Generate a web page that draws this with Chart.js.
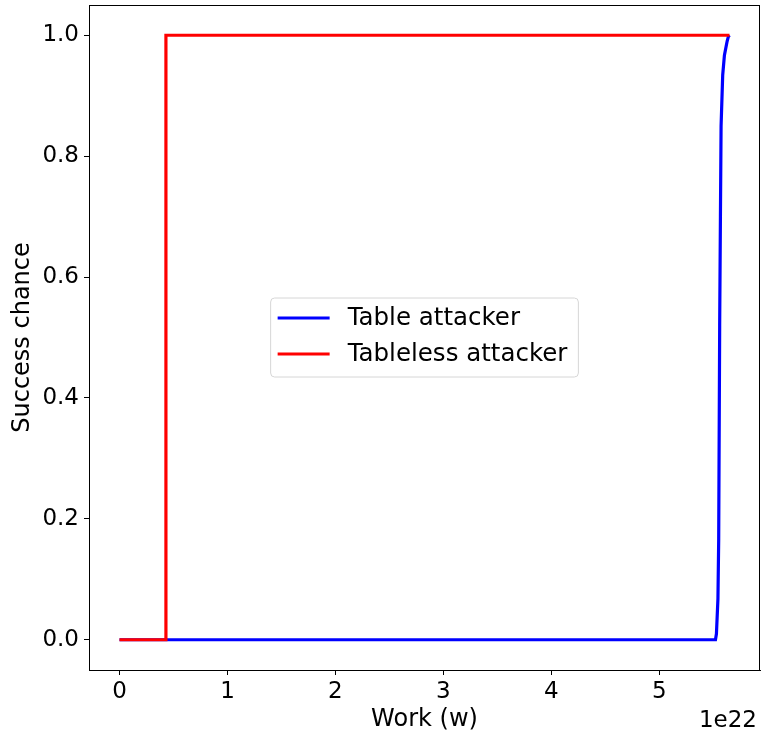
<!DOCTYPE html>
<html>
<head>
<meta charset="utf-8">
<script src="https://cdn.jsdelivr.net/npm/chart.js@4.4.1/dist/chart.umd.min.js"></script>
<style>
  html, body { margin: 0; padding: 0; background: #fff; }
  #wrap { width: 761px; height: 734px; }
</style>
</head>
<body>
<div id="wrap"><canvas id="Chart1" width="761" height="734"></canvas></div>
<script>
// work is in units of 1e22
var seriesLabels = ['Table attacker', 'Tableless attacker'];
var seriesColors = ['#0000ff', '#ff0000'];

var tableX = [0, 5.52, 5.529, 5.543, 5.550, 5.559, 5.566, 5.572, 5.587, 5.603, 5.628, 5.640, 5.650];
var tableY = [0, 0, 0.01, 0.068, 0.167, 0.52, 0.70, 0.85, 0.934, 0.967, 0.99, 0.998, 1.0];

var tablelessX = [0, 0.43, 0.43, 5.65];
var tablelessY = [0, 0, 1, 1];

var xTicks = [0, 1, 2, 3, 4, 5];
var yTicks = [0, 0.2, 0.4, 0.6, 0.8, 1.0];
var xOffsetText = '1e22';

function toPoints(xs, ys) {
    return xs.map(function(x, i) { return {x: x, y: ys[i]}; });
}

Chart.defaults.font.family = "'DejaVu Sans', sans-serif";
Chart.defaults.font.size = 23;
Chart.defaults.color = '#000';

// top/right spines, offset text and the legend box
var frame = {
    id: 'frame',
    afterDraw: function(chart) {
        var c = chart.ctx, a = chart.chartArea;
        c.save();
        c.strokeStyle = '#000';
        c.lineWidth = 1;
        c.strokeRect(a.left + 0.5, a.top + 0.5, a.right - a.left - 1, a.bottom - a.top);

        c.font = "23px 'DejaVu Sans'";
        c.fillStyle = '#000';
        c.textAlign = 'right';
        c.textBaseline = 'alphabetic';
        c.fillText(xOffsetText, a.right - 3, 727);

        // legend
        c.font = "24.5px 'DejaVu Sans'";
        var cx = (a.left + a.right) / 2, cy = (a.top + a.bottom) / 2;
        var tw = 0;
        seriesLabels.forEach(function(l) { tw = Math.max(tw, c.measureText(l).width); });
        var w = 7 + 52 + 18 + tw + 11;
        var h = 79;
        var x0 = cx - w / 2, y0 = cy - h / 2;
        c.beginPath();
        c.roundRect(x0, y0, w, h, 4);
        c.fillStyle = 'rgba(255,255,255,0.8)';
        c.fill();
        c.strokeStyle = '#d6d6d6';
        c.stroke();
        seriesLabels.forEach(function(l, i) {
            var ly = y0 + 20 + i * 36;
            c.beginPath();
            c.moveTo(x0 + 7, ly);
            c.lineTo(x0 + 59, ly);
            c.strokeStyle = seriesColors[i];
            c.lineWidth = 3;
            c.stroke();
            c.fillStyle = '#000';
            c.textAlign = 'left';
            c.textBaseline = 'middle';
            c.fillText(l, x0 + 77, ly + 1);
        });
        c.restore();
    }
};

var ctx = document.getElementById('Chart1').getContext('2d');
var myChart = new Chart(ctx, {
    type: 'scatter',
    data: {
        datasets: [{
            label: seriesLabels[0],
            data: toPoints(tableX, tableY),
            showLine: true,
            borderColor: seriesColors[0],
            borderWidth: 3.2,
            pointRadius: 0,
            order: 1
        }, {
            label: seriesLabels[1],
            data: toPoints(tablelessX, tablelessY),
            showLine: true,
            borderColor: seriesColors[1],
            borderWidth: 3.2,
            pointRadius: 0,
            order: 0
        }]
    },
    options: {
        responsive: false,
        animation: false,
        layout: { padding: { top: 5, right: 1, left: 0, bottom: 0 } },
        scales: {
            x: {
                min: -0.2825,
                max: 5.9325,
                afterFit: function(s) { s.height = 64; s.paddingLeft = 0; s.paddingRight = 0; },
                afterBuildTicks: function(s) { s.ticks = xTicks.map(function(v) { return {value: v}; }); },
                grid: { drawOnChartArea: false, tickLength: 5, color: '#000' },
                border: { color: '#000' },
                ticks: { padding: 3, maxRotation: 0, callback: function(v) { return String(v); } },
                title: { display: true, text: 'Work (w)', font: { size: 24 }, padding: { top: 0, bottom: 0 } }
            },
            y: {
                min: -0.05,
                max: 1.05,
                afterFit: function(s) { s.width = 89; s.paddingTop = 0; s.paddingBottom = 0; },
                afterBuildTicks: function(s) { s.ticks = yTicks.map(function(v) { return {value: v}; }); },
                grid: { drawOnChartArea: false, tickLength: 5, color: '#000' },
                border: { color: '#000' },
                ticks: { padding: 5, callback: function(v) { return v.toFixed(1); } },
                title: { display: true, text: 'Success chance', font: { size: 24 }, padding: { top: 8, bottom: 0 } }
            }
        },
        plugins: {
            legend: { display: false },
            tooltip: { enabled: false }
        }
    },
    plugins: [frame]
});
</script>
</body>
</html>
